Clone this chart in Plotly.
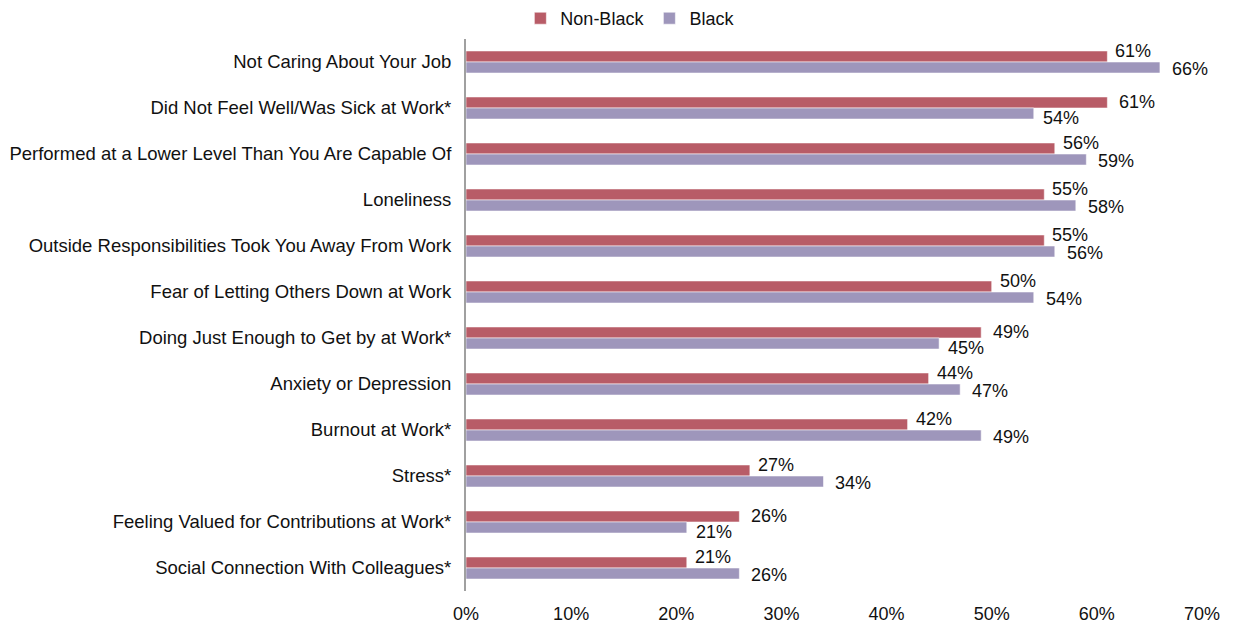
import plotly.graph_objects as go

categories = [
    "Not Caring About Your Job",
    "Did Not Feel Well/Was Sick at Work*",
    "Performed at a Lower Level Than You Are Capable Of",
    "Loneliness",
    "Outside Responsibilities Took You Away From Work",
    "Fear of Letting Others Down at Work",
    "Doing Just Enough to Get by at Work*",
    "Anxiety or Depression",
    "Burnout at Work*",
    "Stress*",
    "Feeling Valued for Contributions at Work*",
    "Social Connection With Colleagues*",
]
non_black = [61, 61, 56, 55, 55, 50, 49, 44, 42, 27, 26, 21]
black = [66, 54, 59, 58, 56, 54, 45, 47, 49, 34, 21, 26]
x_ticks = [0, 10, 20, 30, 40, 50, 60, 70]

RED = "#B85C67"
PURPLE = "#9E96BB"
TEXT = "#111111"
FONT = "Liberation Sans, Arial, sans-serif"
BAR_W = 0.24

idx = list(range(len(categories)))

fig = go.Figure()
fig.add_trace(go.Bar(
    name="Non-Black", y=idx, x=non_black, orientation="h",
    marker=dict(color=RED, line=dict(color="rgba(255,255,255,0.55)", width=1)),
    width=BAR_W, offset=-BAR_W,
))
fig.add_trace(go.Bar(
    name="Black", y=idx, x=black, orientation="h",
    marker=dict(color=PURPLE, line=dict(color="rgba(255,255,255,0.55)", width=1)),
    width=BAR_W, offset=0,
))

# value labels: nudge the pair apart so the shorter bar's label doesn't collide
annotations = []
for i, (a, b) in enumerate(zip(non_black, black)):
    if a > b:
        shift_a, shift_b, xs_a, xs_b = 0, -4, 10, 7
    else:
        shift_a, shift_b, xs_a, xs_b = 5, -1, 6, 10
    annotations.append(dict(
        x=a, y=i - BAR_W / 2, xref="x", yref="y", text=f"{a}%",
        showarrow=False, xanchor="left", yanchor="middle",
        xshift=xs_a, yshift=shift_a, font=dict(size=18, color=TEXT, family=FONT),
    ))
    annotations.append(dict(
        x=b, y=i + BAR_W / 2, xref="x", yref="y", text=f"{b}%",
        showarrow=False, xanchor="left", yanchor="middle",
        xshift=xs_b, yshift=shift_b, font=dict(size=18, color=TEXT, family=FONT),
    ))

fig.update_layout(
    width=1236, height=627,
    margin=dict(l=466, r=34, t=39, b=36, autoexpand=False),
    paper_bgcolor="white", plot_bgcolor="white",
    font=dict(family=FONT, size=18, color=TEXT),
    barmode="overlay",
    showlegend=True,
    legend=dict(
        orientation="h", x=0.51, xref="container", xanchor="center",
        y=1.0, yref="container", yanchor="top",
        font=dict(size=18, family=FONT), itemwidth=30,
        traceorder="normal", tracegroupgap=0,
    ),
    annotations=annotations,
)
fig.update_xaxes(
    range=[0, 70], tickvals=x_ticks, ticktext=[f"{v}%" for v in x_ticks],
    showgrid=False, zeroline=False, showline=False,
    tickfont=dict(size=18, family=FONT, color=TEXT), ticks="", ticklabelstandoff=10,
)
fig.update_yaxes(
    range=[len(categories) - 0.5, -0.5], tickvals=idx, ticktext=categories,
    showgrid=False, zeroline=False, showline=True, linecolor="#A0A0A0", linewidth=2,
    tickfont=dict(size=18.5, family=FONT, color=TEXT), ticks="", ticklabelstandoff=9,
)

fig.write_html("out.html")
